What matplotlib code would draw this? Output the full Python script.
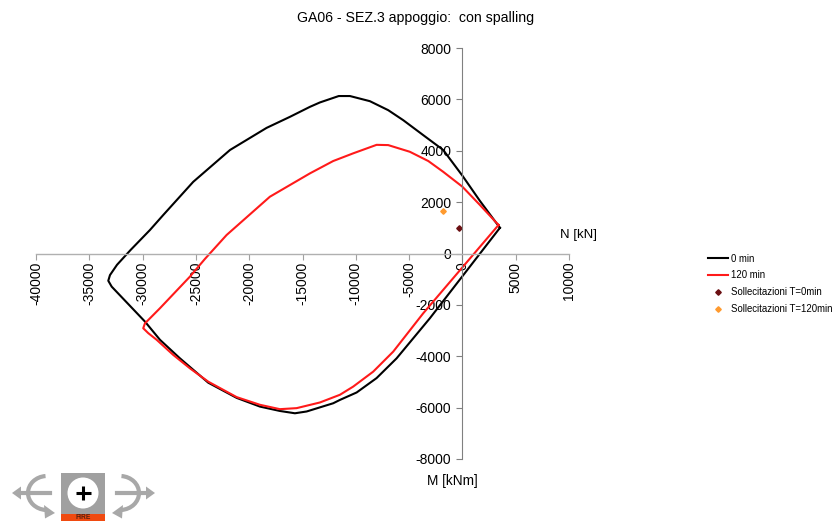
import numpy as np
import matplotlib
matplotlib.use("Agg")
import matplotlib.pyplot as plt
from matplotlib.patches import Rectangle, Circle, Arc, Polygon

plt.rcParams['font.family'] = ['Liberation Sans', 'DejaVu Sans']
plt.rcParams['axes.unicode_minus'] = False

# interaction domain, 0 min
n_0 = [3520, 1640, 0, -1800, -3680, -5550, -6960, -8680, -10550, -11600, -13370, -14300,
       -16180, -18370, -21800, -25250, -28060, -29310, -31120, -32400, -33060, -33220,
       -32900, -29780, -28370, -26500, -23840, -21180, -18990, -17120, -15710, -14610,
       -12120, -11490, -9920, -8050, -6170, -3050, 3520]
m_0 = [1000, 2050, 3030, 4030, 4610, 5190, 5580, 5930, 6130, 6130, 5880, 5710,
       5320, 4890, 4030, 2790, 1500, 915, 140, -440, -840, -1060,
       -1290, -2650, -3360, -4080, -5030, -5620, -5960, -6130, -6220, -6150,
       -5830, -5700, -5410, -4850, -4080, -2520, 1000]

# interaction domain, 120 min
n_120 = [3390, 1640, 0, -1800, -3200, -4930, -6960, -8050, -10240, -12120, -14300, -18060,
         -22120, -24150, -25560, -28370, -29780, -29940, -29470, -28680, -27120, -25560, -23840,
         -21180, -18990, -17120, -15550, -13370, -11490, -10240, -8370, -6490, -3680, 3390]
m_120 = [1110, 1890, 2600, 3180, 3600, 3960, 4220, 4230, 3900, 3600, 3120, 2210,
         720, -210, -900, -2130, -2720, -2910, -3100, -3360, -3950, -4470, -4990,
         -5590, -5890, -6060, -6020, -5800, -5500, -5180, -4600, -3820, -2330, 1110]

n_sd_0 = [-330]
m_sd_0 = [1005]
n_sd_120 = [-1800]
m_sd_120 = [1670]

x_ticks = [-40000, -35000, -30000, -25000, -20000, -15000, -10000, -5000, 0, 5000, 10000]
y_ticks = [-8000, -6000, -4000, -2000, 0, 2000, 4000, 6000, 8000]

W, H = 834, 521
fig = plt.figure(figsize=(W / 100, H / 100), dpi=100)
ax = fig.add_axes([36 / W, 1 - 459 / H, (569 - 36) / W, (459 - 48) / H])
ax.patch.set_alpha(0)

l0, = ax.plot(n_0, m_0, color='black', lw=1.5, label='0 min')
l1, = ax.plot(n_120, m_120, color='#ff1a1a', lw=1.5, label='120 min')
s0, = ax.plot(n_sd_0, m_sd_0, ls='none', marker='D', ms=2.8, color='#6b0f12',
              label='Sollecitazioni T=0min')
s1, = ax.plot(n_sd_120, m_sd_120, ls='none', marker='D', ms=2.8, color='#ff9a2e',
              label='Sollecitazioni T=120min')

ax.set_xlim(-40000, 10000)
ax.set_ylim(-8000, 8000)
for side in ['top', 'right']:
    ax.spines[side].set_visible(False)
ax.spines['left'].set_position(('data', 0))
ax.spines['bottom'].set_position(('data', 0))
ax.spines['left'].set_color('#808080')
ax.spines['bottom'].set_color('#b0b0b0')
ax.spines['left'].set_linewidth(0.8)
ax.spines['bottom'].set_linewidth(1.0)

ax.set_xticks(x_ticks)
ax.set_yticks(y_ticks)
ax.tick_params(axis='x', direction='out', length=4, color='#a0a0a0', labelsize=10,
               labelrotation=90, pad=2, labelcolor='black')
ax.tick_params(axis='y', direction='out', length=4, color='#808080', labelsize=10, pad=4)

fig.text(416 / W, 1 - 18 / H, 'GA06 - SEZ.3 appoggio:  con spalling', fontsize=10.2,
         ha='center', va='center')
fig.text(579 / W, 1 - 235 / H, 'N [kN]', fontsize=9.5, ha='center', va='center')
fig.text(452 / W, 1 - 481 / H, 'M [kNm]', fontsize=9.8, ha='center', va='center')

fig.legend(handles=[l0, l1, s0, s1], loc='upper left', bbox_to_anchor=(708 / W, 1 - 253.5 / H),
           bbox_transform=fig.transFigure, frameon=False, fontsize=6.9, borderpad=0, borderaxespad=0,
           labelspacing=0.72, handlelength=2.1, handletextpad=0.3, numpoints=1)

# logo, drawn in pixel coordinates
logo = fig.add_axes([0, 0, 1, 1], zorder=5)
logo.set_xlim(0, W)
logo.set_ylim(H, 0)
logo.axis('off')
logo.patch.set_alpha(0)
grey = '#a8a8a8'
logo.add_patch(Rectangle((61, 473), 44, 41, color='#a0a0a0', lw=0))
logo.add_patch(Rectangle((61, 514), 44, 7, color='#f04a10', lw=0))
logo.add_patch(Circle((83, 493), 15.5, color='white', lw=0))
logo.plot([76, 91], [493, 493], color='black', lw=2.2, solid_capstyle='butt')
logo.plot([83.5, 83.5], [486, 500], color='black', lw=2.2, solid_capstyle='butt')
logo.text(83, 517.5, 'FIRE', fontsize=4.8, fontweight='bold', ha='center', va='center', color='#552211')
for flip in [False, True]:
    def fx(v):
        return 167 - v if flip else v
    logo.plot([fx(20), fx(50)], [493, 493], color=grey, lw=3)
    logo.add_patch(Polygon([(fx(12), 493), (fx(21), 486.5), (fx(21), 499.5)], color=grey, lw=0))
    # y axis is inverted here, so angles run clockwise on screen
    theta = (95, 265) if not flip else (-85, 85)
    logo.add_patch(Arc((fx(47), 493), 38, 34, theta1=theta[0], theta2=theta[1], color=grey, lw=3))
    logo.add_patch(Polygon([(fx(55), 513), (fx(44), 505), (fx(45), 518.5)], color=grey, lw=0))

fig.savefig('out.png', dpi=100)
